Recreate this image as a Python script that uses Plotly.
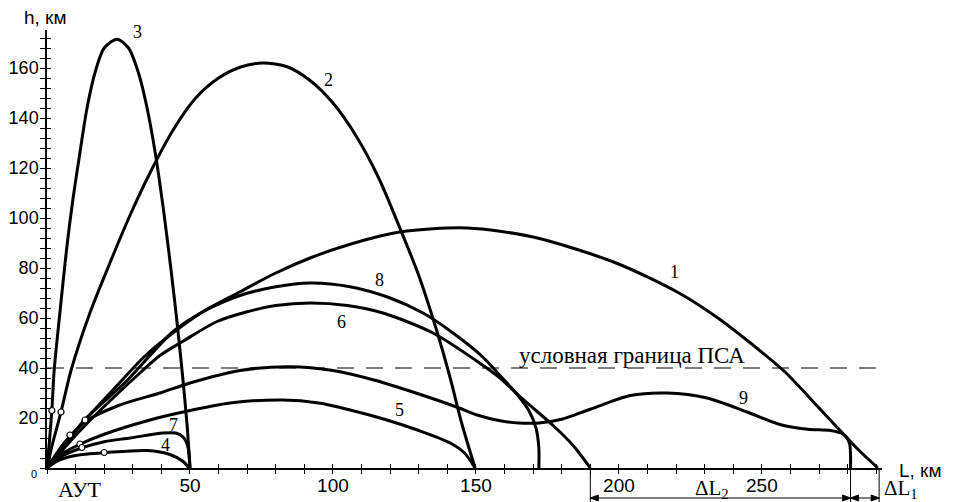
import plotly.graph_objects as go

# ---------------- data (km) ----------------
c1_x = [0, 4, 8, 13.3, 24.5, 34, 44, 54.5, 67.5, 80, 92, 106, 123.4, 147, 170, 199, 221, 234, 246, 258, 270, 279, 284, 290.6]
c1_y = [0, 6, 12, 19.2, 33, 44.5, 54, 62.5, 70.5, 78, 84, 89.5, 94.4, 96, 92.4, 82, 70, 60.5, 50, 38.5, 24, 13, 7, 0]

c2_x = [0, 2, 4.9, 8.4, 15, 22, 29, 36, 44, 52, 60, 68, 75.5, 84, 92, 100, 108, 116, 123.4, 130, 136, 141, 145, 149.7]
c2_y = [0, 10, 22.4, 39, 62, 82, 101, 118, 135, 148, 156, 160.5, 162, 160.5, 155, 146, 133, 116, 96, 77, 56, 36, 18, 0]

c3_x = [0, 0.8, 1.7, 2.5, 4.5, 6.9, 9, 11.5, 14, 17, 20, 24.5, 28.5, 32, 35, 38, 41, 43.5, 45.5, 47.4, 49, 50]
c3_y = [0, 10, 23, 39, 62, 88, 107, 126, 144, 159, 168, 171.5, 168, 158, 144, 125, 101, 78, 58, 37, 17, 0]

c4_x = [0, 4, 10, 21, 35, 43, 47.6, 49.6]
c4_y = [0, 3, 5, 6.2, 7, 5.4, 2.6, 0]

c5_x = [0, 4, 11.5, 20, 36, 47.6, 64, 82.5, 95, 106, 118, 130, 141, 146, 149.7]
c5_y = [0, 4.8, 9.5, 13.5, 19.2, 22.4, 26, 27.2, 26, 23.2, 19.5, 15, 10, 6, 0]

c6_x = [0, 8, 13.3, 24, 32.5, 39.5, 48, 59.3, 70, 80, 92, 105, 117.5, 135, 150, 158.4, 165, 171, 177, 184, 190]
c6_y = [0, 10.5, 17, 29, 38, 45, 51, 58.5, 62.5, 65, 66, 65, 62, 54, 43, 36, 29, 23, 17, 9, 0]

c7_x = [0, 4, 12, 20, 29, 40.6, 45, 47.6, 49.3, 50]
c7_y = [0, 4, 8, 10.5, 12, 14, 14, 12.4, 8.4, 0]

c8_x = [0, 8, 13.3, 28, 44, 54.5, 67.5, 80, 92, 106, 120, 131.5, 142, 152.4, 158.4, 164, 168.5, 171, 172, 172]
c8_y = [0, 11.8, 19.5, 35, 54.5, 62.5, 69, 72.5, 74, 72.5, 68, 62, 54, 44.4, 37, 30, 23, 16, 8, 0]

c9_x = [0, 6, 13.3, 25, 39.5, 50, 67.5, 85, 100, 115, 129, 143, 151, 158, 165, 172, 180, 190, 204, 216.8, 230.8, 244.8, 256, 266, 274, 278.5, 280.6, 281, 281]
c9_y = [0, 10, 18.5, 25, 30, 34, 39, 40.5, 39, 35, 30, 24.5, 21, 19, 18, 18, 19.5, 23.5, 29, 30, 28, 22.4, 17.5, 15.5, 15, 13.5, 10, 5, 0]

circ_x = [1.7, 4.9, 8.0, 13.3, 11.5, 12.2, 20.0]
circ_y = [23, 22.4, 13.2, 19.2, 9.6, 8.2, 6.2]

curve_labels = ["1", "2", "3", "4", "5", "6", "7", "8", "9"]
label_x = [219.6, 98.3, 31.8, 41.3, 123.4, 103.1, 44.1, 116.1, 243.4]
label_y = [78.4, 155.2, 174.4, 9.2, 23.2, 58.4, 17.2, 75.2, 28.0]

x_ticks = list(range(0, 300, 10))
x_labels = ["50", "100", "150", "200", "250"]
y_ticks = list(range(0, 176, 4))
y_labels = ["20", "40", "60", "80", "100", "120", "140", "160"]

psa_level = 40
dL_marks = [190, 281, 291]

# ---------------- geometry ----------------
# page body has an 8px margin: figure is drawn at (8, 8) on screen
OFF = 8
W, H = 956 - OFF, 502 - OFF
X_RANGE = [0, 292]
Y_RANGE = [0, 175.2]
ML, MT = 47 - OFF, 30 - OFF
PW, PH = 835, 438
MR = W - ML - PW
MB = H - MT - PH


def paper_x(px):  # screen pixel -> paper
    return (px - OFF - ML) / PW


def paper_y(py):
    return (H - MB - (py - OFF)) / PH


KM_PX = PW / (X_RANGE[1] - X_RANGE[0])

fig = go.Figure()
curves = [(c1_x, c1_y), (c2_x, c2_y), (c3_x, c3_y), (c4_x, c4_y), (c5_x, c5_y),
          (c6_x, c6_y), (c7_x, c7_y), (c8_x, c8_y), (c9_x, c9_y)]
for cx, cy in curves:
    fig.add_trace(go.Scatter(x=cx, y=cy, mode="lines",
                             line=dict(color="black", width=3, shape="spline", smoothing=0.8),
                             hoverinfo="skip", showlegend=False))

fig.add_trace(go.Scatter(x=circ_x, y=circ_y, mode="markers",
                         marker=dict(symbol="circle", size=6, color="white",
                                     line=dict(color="black", width=1.2)),
                         showlegend=False, hoverinfo="skip"))

# dummy trace on overlay axes (inside ticks)
fig.add_trace(go.Scatter(x=[X_RANGE[0]], y=[Y_RANGE[0]], xaxis="x2", yaxis="y2",
                         mode="markers", marker=dict(opacity=0), showlegend=False, hoverinfo="skip"))

x_text = [str(v) if str(v) in x_labels else "" for v in x_ticks]
y_text = [str(v) if str(v) in y_labels else "" for v in y_ticks]

xtickfont = dict(family="Liberation Sans, Arial, sans-serif", size=19, color="black")
ytickfont = dict(family="Liberation Sans, Arial, sans-serif", size=18, color="black")

fig.update_layout(
    width=W, height=H,
    margin=dict(l=ML, r=MR, t=MT, b=MB, pad=0, autoexpand=False),
    paper_bgcolor="white", plot_bgcolor="white",
    xaxis=dict(range=X_RANGE, showgrid=False, zeroline=False, showline=True, automargin=False,
               linecolor="black", linewidth=1.5, ticks="outside", ticklen=4,
               tickwidth=1.3, tickcolor="black", tickvals=x_ticks, ticktext=x_text,
               tickfont=xtickfont, ticklabelstandoff=-5),
    yaxis=dict(range=Y_RANGE, showgrid=False, zeroline=False, showline=True, automargin=False,
               linecolor="black", linewidth=1.5, ticks="outside", ticklen=5,
               tickwidth=1.3, tickcolor="black", tickvals=y_ticks, ticktext=y_text,
               tickfont=ytickfont, ticklabelstandoff=-2),
    xaxis2=dict(range=X_RANGE, overlaying="x", anchor="y", side="bottom", automargin=False,
                showgrid=False, zeroline=False, showline=False, ticks="inside",
                ticklen=4, tickwidth=1.3, tickcolor="black", tickvals=x_ticks,
                showticklabels=False),
    yaxis2=dict(range=Y_RANGE, overlaying="y", anchor="x", side="left", automargin=False,
                showgrid=False, zeroline=False, showline=False, ticks="inside",
                ticklen=4, tickwidth=1.3, tickcolor="black", tickvals=y_ticks,
                showticklabels=False),
)

# conditional PSA boundary
fig.add_shape(type="line", xref="paper", yref="y", x0=0, x1=paper_x(887),
              y0=psa_level, y1=psa_level,
              line=dict(color="black", width=1.2, dash="17px,12px"))

serif = "Liberation Serif, Times New Roman, serif"
sans = "Liberation Sans, Arial, sans-serif"


def text_at(px, py, txt, family, size, **kw):
    fig.add_annotation(x=paper_x(px), y=paper_y(py), xref="paper", yref="paper",
                       text=txt, showarrow=False, xanchor=kw.get("xanchor", "center"),
                       yanchor="middle", font=dict(family=family, size=size, color="black"))


fig.add_annotation(x=204.5, y=45.2, xref="x", yref="y", text="условная граница ПСА",
                   xanchor="center", yanchor="middle",
                   showarrow=False, font=dict(family=serif, size=23, color="black"))

for t, lx, ly in zip(curve_labels, label_x, label_y):
    fig.add_annotation(x=lx, y=ly, xref="x", yref="y", text=t, showarrow=False,
                       xanchor="center", yanchor="middle",
                       font=dict(family=serif, size=18, color="black"))

# axis titles and extra labels
text_at(45, 18, "h, км", sans, 19)
text_at(897, 470, "L, км", sans, 19, xanchor="left")
text_at(34, 474, "0", sans, 11)
text_at(80, 489, "АУТ", serif, 22)
text_at(712, 489, "ΔL<sub>2</sub>", serif, 21)
text_at(901, 489, "ΔL<sub>1</sub>", serif, 21)

# dimension lines for ΔL2, ΔL1
for m in dL_marks:
    fig.add_shape(type="line", xref="x", yref="paper", x0=m, x1=m,
                  y0=0, y1=paper_y(502), line=dict(color="black", width=1))

arrow_py = 498
ay = paper_y(arrow_py)
head_len = 8 / KM_PX
head_h = 3 / PH
for a, b in [(dL_marks[0], dL_marks[1]), (dL_marks[1], dL_marks[2])]:
    fig.add_shape(type="line", xref="x", yref="paper", x0=a, x1=b,
                  y0=ay, y1=ay, line=dict(color="black", width=1))
    for tip, direction in [(a, 1), (b, -1)]:
        base = tip + direction * head_len
        fig.add_shape(type="path", xref="x", yref="paper",
                      path=f"M {tip},{ay} L {base},{ay + head_h} L {base},{ay - head_h} Z",
                      line=dict(color="black", width=1), fillcolor="black")

fig.write_html("out.html")
